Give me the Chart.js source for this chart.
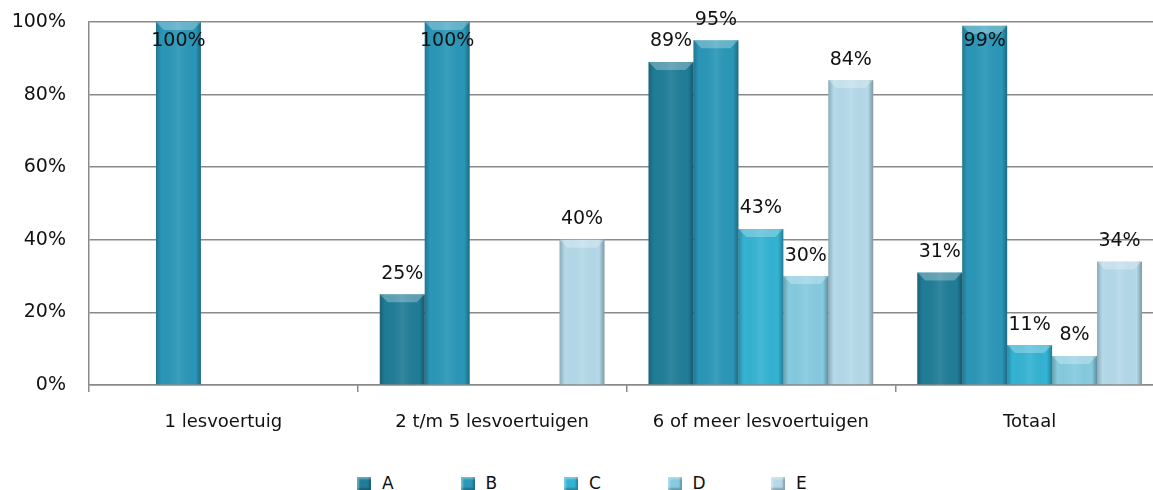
<!DOCTYPE html>
<html lang="nl">
  <head>
    <meta charset="UTF-8" />
    <title>Lesvoertuigen</title>
    <style>
      body {
        margin: 0;
        background: white;
        overflow: hidden;
        font-family: "DejaVu Sans", sans-serif;
      }
      .wrap {
        position: relative;
        width: 1164px;
        height: 490px;
      }
      #chart {
        position: absolute;
        left: 0;
        top: 0;
      }
      .legend {
        position: absolute;
        left: 357px;
        top: 473px;
        display: flex;
        font-size: 17px;
        color: #111;
      }
      .legend-item {
        width: 103.5px;
        display: flex;
        align-items: center;
      }
      .swatch {
        width: 14px;
        height: 13px;
        margin-right: 11px;
        box-shadow: inset 2px 2px 2px rgba(255, 255, 255, 0.35),
          inset -2px -2px 2px rgba(0, 0, 0, 0.25);
      }
    </style>
  </head>
  <body>
    <div class="wrap">
      <canvas id="chart" width="1164" height="445"></canvas>
      <div class="legend" id="legend"></div>
    </div>

    <script src="https://cdn.jsdelivr.net/npm/chart.js"></script>
    <script>
      // categorieen
      const categories = [
        "1 lesvoertuig",
        "2 t/m 5 lesvoertuigen",
        "6 of meer lesvoertuigen",
        "Totaal",
      ];

      // percentages per reeks
      const serieA = [0, 25, 89, 31];
      const serieB = [100, 100, 95, 99];
      const serieC = [0, 0, 43, 11];
      const serieD = [0, 0, 30, 8];
      const serieE = [0, 40, 84, 34];

      const seriesNames = ["A", "B", "C", "D", "E"];
      const seriesColors = ["#207d97", "#2a97b8", "#33b3d3", "#86cbe0", "#b4d9e9"];

      const yTicks = [0, 20, 40, 60, 80, 100];

      const allSeries = [serieA, serieB, serieC, serieD, serieE];

      // bevel effect over each bar
      const bevelPlugin = {
        id: "bevel",
        afterDatasetsDraw(chart) {
          const ctx = chart.ctx;
          chart.data.datasets.forEach((ds, i) => {
            chart.getDatasetMeta(i).data.forEach((bar, j) => {
              if (!ds.data[j]) return;
              const left = bar.x - bar.width / 2;
              const right = bar.x + bar.width / 2;
              const top = bar.y;
              const bottom = bar.base;
              const g = ctx.createLinearGradient(left, 0, right, 0);
              g.addColorStop(0, "rgba(0,0,0,0.22)");
              g.addColorStop(0.12, "rgba(0,0,0,0)");
              g.addColorStop(0.5, "rgba(255,255,255,0.08)");
              g.addColorStop(0.88, "rgba(0,0,0,0)");
              g.addColorStop(1, "rgba(0,0,0,0.30)");
              ctx.save();
              ctx.fillStyle = g;
              ctx.fillRect(left, top, bar.width, bottom - top);
              const bev = Math.min(8, (bottom - top) / 2);
              ctx.fillStyle = "rgba(255,255,255,0.28)";
              ctx.beginPath();
              ctx.moveTo(left, top);
              ctx.lineTo(right, top);
              ctx.lineTo(right - bev, top + bev);
              ctx.lineTo(left + bev, top + bev);
              ctx.closePath();
              ctx.fill();
              ctx.restore();
            });
          });
        },
      };

      // percentage labels above bars
      const labelPlugin = {
        id: "valueLabels",
        afterDatasetsDraw(chart) {
          const ctx = chart.ctx;
          ctx.save();
          ctx.font = '19px "DejaVu Sans", sans-serif';
          ctx.fillStyle = "#111";
          ctx.textAlign = "center";
          ctx.textBaseline = "bottom";
          chart.data.datasets.forEach((ds, i) => {
            chart.getDatasetMeta(i).data.forEach((bar, j) => {
              const v = ds.data[j];
              if (!v) return;
              let y = bar.y - 11;
              if (y - 16 < 0) y = chart.chartArea.top + 29;
              ctx.fillText(v + "%", bar.x, y);
            });
          });
          ctx.restore();
        },
      };

      const ctx = document.getElementById("chart").getContext("2d");
      new Chart(ctx, {
        type: "bar",
        data: {
          labels: categories,
          datasets: allSeries.map((data, i) => ({
            label: seriesNames[i],
            data: data,
            backgroundColor: seriesColors[i],
            borderWidth: 0,
            categoryPercentage: 0.836,
            barPercentage: 1.0,
          })),
        },
        options: {
          responsive: false,
          animation: false,
          layout: { padding: { top: 22, right: 0, bottom: 0, left: 0 } },
          plugins: {
            legend: { display: false },
            tooltip: { enabled: false },
          },
          scales: {
            x: {
              grid: {
                offset: true,
                drawOnChartArea: false,
                drawTicks: true,
                tickLength: 7,
                color: "#8a8a8a",
                lineWidth: 1.5,
              },
              border: { color: "#8a8a8a", width: 1.5 },
              ticks: {
                color: "#111",
                font: { family: "DejaVu Sans", size: 18 },
                padding: 20,
                maxRotation: 0,
              },
              afterFit(scale) {
                scale.height = 60;
              },
            },
            y: {
              min: 0,
              max: 100,
              afterBuildTicks(scale) {
                scale.ticks = yTicks.map((v) => ({ value: v }));
              },
              grid: {
                color: "#8a8a8a",
                lineWidth: 1.5,
                drawTicks: false,
              },
              border: { color: "#8a8a8a", width: 1.5 },
              ticks: {
                color: "#111",
                font: { family: "DejaVu Sans", size: 19 },
                padding: 23,
                callback: (v) => v + "%",
              },
              afterFit(scale) {
                scale.width = 89;
                scale.paddingTop = 0;
                scale.paddingBottom = 0;
              },
            },
          },
        },
        plugins: [bevelPlugin, labelPlugin],
      });

      // legenda
      const legend = document.getElementById("legend");
      seriesNames.forEach((name, i) => {
        const item = document.createElement("div");
        item.className = "legend-item";
        const sw = document.createElement("span");
        sw.className = "swatch";
        sw.style.background = seriesColors[i];
        const txt = document.createElement("span");
        txt.textContent = name;
        item.appendChild(sw);
        item.appendChild(txt);
        legend.appendChild(item);
      });
    </script>
  </body>
</html>
